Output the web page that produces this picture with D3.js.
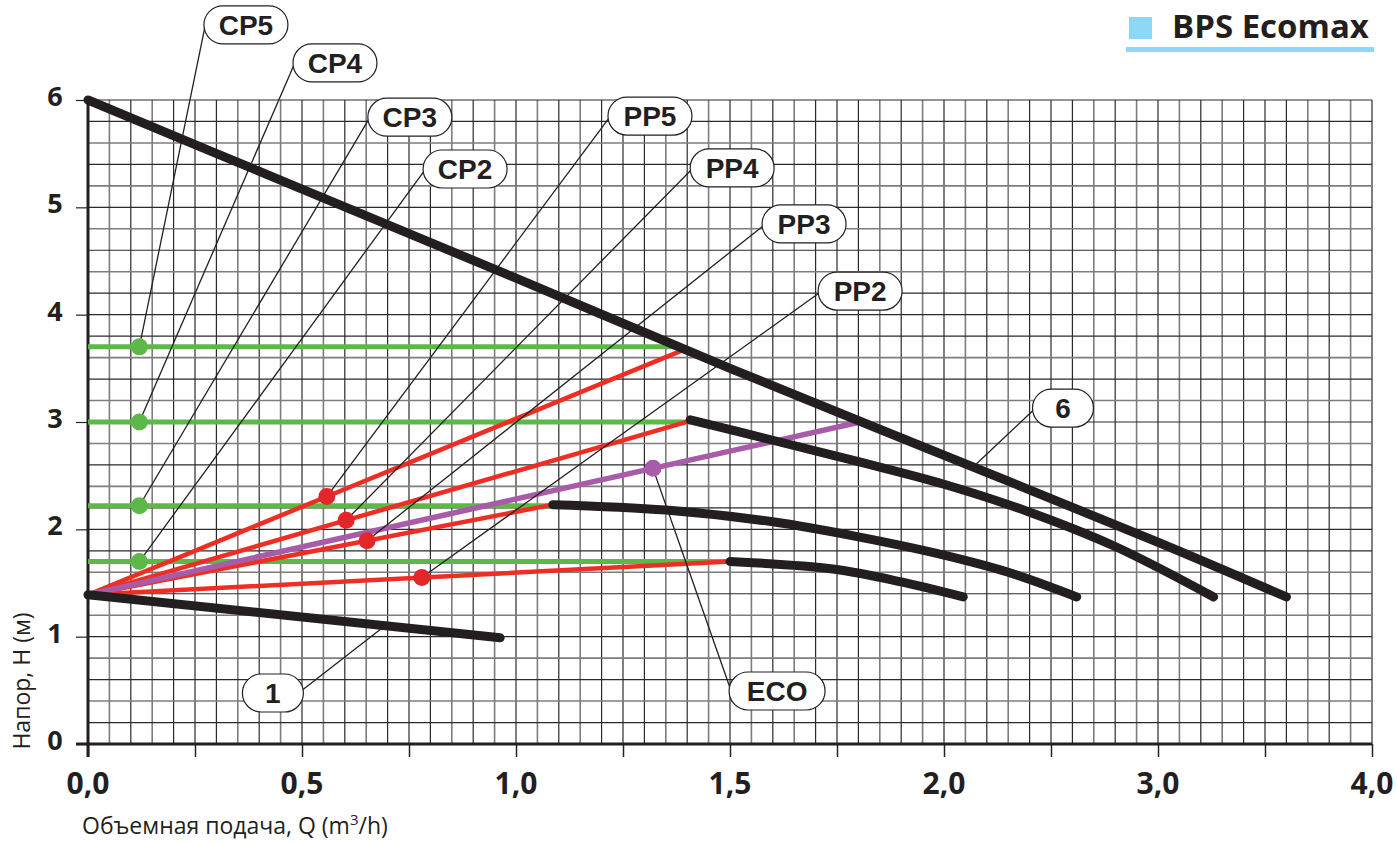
<!DOCTYPE html>
<html><head><meta charset="utf-8">
<script src="https://cdn.jsdelivr.net/npm/d3@7"></script>
<style>html,body{margin:0;padding:0;background:#fff;}svg{display:block;}</style>
</head><body>
<script>
// ---------- data ----------
const xTickValues = [0, 0.5, 1.0, 1.5, 2.0, 2.5, 3.0];
const xTickLabels = ["0,0", "0,5", "1,0", "1,5", "2,0", "3,0", "4,0"];
const yTickValues = [0, 1, 2, 3, 4, 5, 6];
const yTickLabels = ["0", "1", "2", "3", "4", "5", "6"];

// black pump curves [Q, H]
const curveMax = [[0, 6.0], [0.5, 5.17], [1.0, 4.34], [1.5, 3.50], [2.0, 2.69], [2.5, 1.88], [2.8, 1.37]];
const curveCP4 = [[1.407, 3.02], [1.6, 2.83], [1.8, 2.63], [2.0, 2.42], [2.2, 2.16], [2.4, 1.84], [2.63, 1.37]];
const curveCP3 = [[1.086, 2.23], [1.35, 2.18], [1.6, 2.07], [1.8, 1.93], [2.0, 1.76], [2.15, 1.60], [2.31, 1.37]];
const curveCP2 = [[1.5, 1.70], [1.74, 1.63], [1.9, 1.51], [2.045, 1.37]];
const curve1 = [[0, 1.39], [0.963, 0.99]];

// proportional pressure (red) lines
const ppStart = [0, 1.39];
const ppEnds = [[1.39, 3.67], [1.407, 3.01], [1.086, 2.23], [1.5, 1.70]];
const ppMarkerQ = [0.558, 0.603, 0.652, 0.78];

// ECO (purple)
const ecoLine = [[0, 1.39], [1.804, 3.0]];
const ecoMarkerQ = 1.32;

// constant pressure (green) lines
const cpLevels = [3.70, 3.0, 2.22, 1.70];
const cpEndQ = [1.39, 1.407, 1.086, 1.5];
const cpMarkerQ = 0.12;

// callout labels
const calloutNames = ["CP5", "CP4", "CP3", "CP2", "PP5", "PP4", "PP3", "PP2", "6", "ECO", "1"];
const calloutAt = [[0.369, 6.70], [0.577, 6.345], [0.752, 5.84], [0.881, 5.357],
                   [1.313, 5.85], [1.505, 5.367], [1.673, 4.845], [1.804, 4.22],
                   [2.278, 3.13], [1.61, 0.494], [0.432, 0.475]];

// ---------- drawing ----------
const W = 1397, H = 843;
const svg = d3.select("body").append("svg").attr("width", W).attr("height", H);
const x = d3.scaleLinear().domain([0, 3]).range([88, 1372]);
const y = d3.scaleLinear().domain([0, 6]).range([744, 100]);

// grid
const grid = svg.append("g");
d3.range(1, 61).forEach(i => {
  const q = i * 0.05;
  const dark = (i % 2 === 0) || (i % 5 === 0);
  grid.append("line").attr("x1", x(q)).attr("x2", x(q)).attr("y1", y(6)).attr("y2", y(0))
    .attr("stroke", dark ? "#2a2a2a" : "#7d7d7d").attr("stroke-width", dark ? 1.2 : 1.6);
});
d3.range(1, 31).forEach(i => {
  const h = i * 0.2;
  const dark = (i % 2 === 1) || (i % 5 === 0);
  grid.append("line").attr("x1", x(0)).attr("x2", x(3)).attr("y1", y(h)).attr("y2", y(h))
    .attr("stroke", dark ? "#2a2a2a" : "#7d7d7d").attr("stroke-width", dark ? 1.2 : 1.6);
});

// axes
const xAxis = d3.axisBottom(x).tickValues(d3.range(0, 3.001, 0.25)).tickSize(13).tickFormat("");
svg.append("g").attr("transform", `translate(0,${y(0)})`).call(xAxis)
  .call(g => g.select(".domain").remove())
  .call(g => g.selectAll("line").attr("stroke", "#222").attr("stroke-width", 1.5));
const yAxis = d3.axisLeft(y).tickValues(yTickValues).tickSize(12).tickFormat("");
svg.append("g").attr("transform", `translate(${x(0)},0)`).call(yAxis)
  .call(g => g.select(".domain").remove())
  .call(g => g.selectAll("line").attr("stroke", "#222").attr("stroke-width", 1.2));
svg.append("line").attr("x1", x(0) - 12).attr("x2", x(3)).attr("y1", y(0)).attr("y2", y(0))
  .attr("stroke", "#231f20").attr("stroke-width", 3);
svg.append("line").attr("x1", x(0)).attr("x2", x(0)).attr("y1", y(6)).attr("y2", y(0) + 13)
  .attr("stroke", "#231f20").attr("stroke-width", 3);

// tick labels
svg.append("g").selectAll("text").data(xTickValues).join("text")
  .attr("x", d => x(d)).attr("y", y(0) + 50).attr("text-anchor", "middle")
  .attr("font-family", "'Open Sans', sans-serif").attr("font-weight", 700).attr("font-size", 30)
  .attr("fill", "#231f20").text((d, i) => xTickLabels[i]);
svg.append("g").selectAll("text").data(yTickValues).join("text")
  .attr("x", 55).attr("y", d => y(d) + 6).attr("text-anchor", "middle")
  .attr("font-family", "'Open Sans', sans-serif").attr("font-weight", 700).attr("font-size", 27)
  .attr("fill", "#231f20").text((d, i) => yTickLabels[i]);

// axis titles
const xt = svg.append("text").attr("x", 82).attr("y", 834)
  .attr("font-family", "'Open Sans', sans-serif").attr("font-size", 23).attr("fill", "#231f20");
xt.append("tspan").text("Объемная подача, Q (m");
xt.append("tspan").attr("font-size", 15).attr("dy", -9).text("3");
xt.append("tspan").attr("dy", 9).text("/h)");
svg.append("text").attr("transform", "translate(30,681) rotate(-90)").attr("text-anchor", "middle")
  .attr("font-family", "'Open Sans', sans-serif").attr("font-size", 23).attr("fill", "#231f20")
  .text("Напор, H (м)");

// title
svg.append("rect").attr("x", 1129).attr("y", 17).attr("width", 23).attr("height", 22).attr("fill", "#8dd8f8");
svg.append("text").attr("x", 1172).attr("y", 38).attr("font-family", "'Open Sans', sans-serif")
  .attr("font-weight", 700).attr("font-size", 33).attr("fill", "#231f20").text("BPS Ecomax");
svg.append("rect").attr("x", 1126).attr("y", 47).attr("width", 248).attr("height", 5).attr("fill", "#8dd8f8");

const line = d3.line().x(d => x(d[0])).y(d => y(d[1]));
const smooth = d3.line().x(d => x(d[0])).y(d => y(d[1])).curve(d3.curveCatmullRom.alpha(0.5));

// green CP lines
cpLevels.forEach((h, i) => {
  svg.append("path").attr("d", line([[0, h], [cpEndQ[i], h]]))
    .attr("stroke", "#5cb947").attr("stroke-width", 5).attr("fill", "none");
});
// red PP lines
ppEnds.forEach(e => {
  svg.append("path").attr("d", line([ppStart, e]))
    .attr("stroke", "#ee2e24").attr("stroke-width", 4.5).attr("fill", "none").attr("stroke-linecap", "round");
});
// purple ECO
svg.append("path").attr("d", line(ecoLine))
  .attr("stroke", "#a85ba8").attr("stroke-width", 5.5).attr("fill", "none").attr("stroke-linecap", "round");

// black curves
[curveMax, curveCP4, curveCP3, curveCP2, curve1].forEach(c => {
  svg.append("path").attr("d", smooth(c))
    .attr("stroke", "#231f20").attr("stroke-width", 9).attr("fill", "none")
    .attr("stroke-linecap", "round").attr("stroke-linejoin", "round");
});

// marker positions
const interp = (p0, p1, q) => p0[1] + (q - p0[0]) * (p1[1] - p0[1]) / (p1[0] - p0[0]);
const cpMarkers = cpLevels.map(h => [cpMarkerQ, h]);
const ppMarkers = ppEnds.map((e, i) => [ppMarkerQ[i], interp(ppStart, e, ppMarkerQ[i])]);
const ecoMarker = [ecoMarkerQ, interp(ecoLine[0], ecoLine[1], ecoMarkerQ)];
const q6 = 2.068, q1 = 0.694;
const target6 = [q6, interp(curveMax[4], curveMax[5], q6)];
const target1 = [q1, interp(curve1[0], curve1[1], q1)];
const targets = [...cpMarkers, ...ppMarkers, target6, ecoMarker, target1];

// callouts
const boxW = n => n.length === 1 ? 61 : (n === "ECO" ? 96 : 84);
calloutNames.forEach((n, i) => {
  const cx = x(calloutAt[i][0]), cy = y(calloutAt[i][1]);
  const w = boxW(n);
  const sx = n === "1" ? cx + w / 2 - 1 : cx - w / 2 + 1;
  const sy = (n === "ECO" || n === "1") ? cy - 3 : cy + 2;
  const t = targets[i];
  svg.append("line").attr("x1", sx).attr("y1", sy).attr("x2", x(t[0])).attr("y2", y(t[1]))
    .attr("stroke", "#231f20").attr("stroke-width", 1.3);
});

// markers
svg.append("g").selectAll("circle").data(cpMarkers).join("circle")
  .attr("cx", d => x(d[0])).attr("cy", d => y(d[1])).attr("r", 8.5).attr("fill", "#5cb947");
svg.append("g").selectAll("circle").data(ppMarkers).join("circle")
  .attr("cx", d => x(d[0])).attr("cy", d => y(d[1])).attr("r", 8.5).attr("fill", "#e3262a");
svg.append("circle").attr("cx", x(ecoMarker[0])).attr("cy", y(ecoMarker[1])).attr("r", 8.5).attr("fill", "#a85ba8");

calloutNames.forEach((n, i) => {
  const cx = x(calloutAt[i][0]), cy = y(calloutAt[i][1]);
  const w = boxW(n), h = 38;
  svg.append("rect").attr("x", cx - w / 2).attr("y", cy - h / 2).attr("width", w).attr("height", h)
    .attr("rx", h / 2).attr("ry", h / 2).attr("fill", "#fff").attr("stroke", "#231f20").attr("stroke-width", 1.2);
  svg.append("text").attr("x", cx).attr("y", cy + 10).attr("text-anchor", "middle")
    .attr("font-family", "'Liberation Sans', Arial, sans-serif").attr("font-weight", 700)
    .attr("font-size", 28).attr("fill", "#231f20").text(n);
});
</script>
</body></html>
